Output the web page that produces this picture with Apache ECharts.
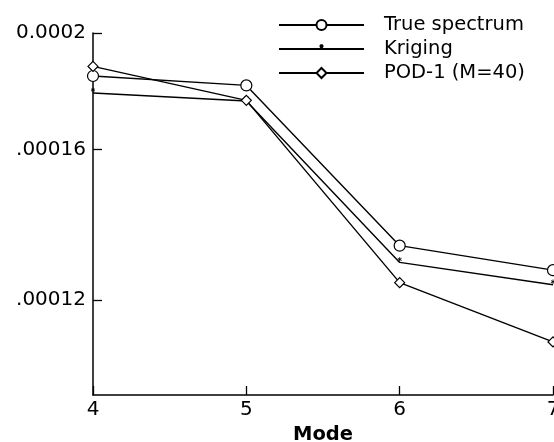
<!DOCTYPE html>
<html>
<head>
<meta charset="utf-8">
<script src="https://cdn.jsdelivr.net/npm/echarts@6/dist/echarts.min.js"></script>
<style>
html,body{margin:0;padding:0;background:#fff;}
#chart{width:554px;height:442px;}
</style>
</head>
<body>
<div id="chart"></div>
<script>
const modes = [4, 5, 6, 7];
const trueSpectrum = [1.842e-4, 1.809e-4, 1.331e-4, 1.270e-4];
const kriging = [1.783e-4, 1.756e-4, 1.289e-4, 1.235e-4];
const pod1 = [1.876e-4, 1.758e-4, 1.240e-4, 1.107e-4];
const yTickValues = [0.00012, 0.00016, 0.0002];
const yTickLabels = ['.00012', '.00016', '0.0002'];
const seriesNames = ['True spectrum', 'Kriging', 'POD-1 (M=40)'];

const FONT = 'DejaVu Sans, Liberation Sans, Arial, sans-serif';
// small asterisk drawn above the centre of a 20x20 box
const asterisk = 'path://M0,0M20,20M10,0.5L10,8.5M6.5,2.5L13.5,6.5M6.5,6.5L13.5,2.5';

function pairs(vals) { return modes.map((m, i) => [m, vals[i]]); }

const chart = echarts.init(document.getElementById('chart'), null, {renderer: 'canvas'});
const lineStyle = {color: '#000', width: 1.4};
const hollow = {color: '#fff', borderColor: '#000', borderWidth: 1.2};
chart.setOption({
  animation: false,
  backgroundColor: '#fff',
  grid: {left: 93, right: 1, top: 33, bottom: 47, containLabel: false, outerBoundsMode: 'none'},
  legend: {
    orient: 'vertical',
    left: 278,
    top: 15,
    itemWidth: 85,
    itemHeight: 12.5,
    itemGap: 4,
    padding: 0,
    textStyle: {color: '#000', fontSize: 19.5, fontFamily: FONT, padding: [0, 0, 0, 15]},
    data: seriesNames
  },
  xAxis: {
    type: 'value',
    min: 4, max: 7, interval: 1,
    name: 'Mode',
    nameLocation: 'middle',
    nameGap: 29,
    nameTextStyle: {color: '#000', fontSize: 19.5, fontWeight: 'bold', fontFamily: FONT},
    axisLine: {show: true, lineStyle: {color: '#000', width: 1.5}},
    axisTick: {show: true, inside: true, length: 9, lineStyle: {color: '#000', width: 1.3}},
    axisLabel: {color: '#000', fontSize: 20, fontFamily: FONT, margin: 5},
    splitLine: {show: false}
  },
  yAxis: {
    type: 'log',
    logBase: 10,
    min: 0.0001, max: 0.0002,
    axisLine: {show: true, lineStyle: {color: '#000', width: 1.5}},
    axisTick: {show: true, inside: true, length: 9, lineStyle: {color: '#000', width: 1.3}, customValues: yTickValues},
    axisLabel: {
      color: '#000', fontSize: 20, fontFamily: FONT, margin: 7,
      customValues: yTickValues,
      formatter: function (v) {
        let best = 0, bd = Infinity;
        yTickValues.forEach((t, i) => { const d = Math.abs(t - v); if (d < bd) { bd = d; best = i; } });
        return yTickLabels[best];
      }
    },
    splitLine: {show: false},
    minorTick: {show: false}
  },
  series: [
    {
      name: seriesNames[0], type: 'line', data: pairs(trueSpectrum),
      symbol: 'circle', symbolSize: 11,
      lineStyle: lineStyle, itemStyle: hollow,
      clip: false
    },
    {
      name: seriesNames[1], type: 'line', data: pairs(kriging),
      symbol: asterisk, symbolSize: 11,
      lineStyle: lineStyle, itemStyle: {color: 'none', borderColor: '#000', borderWidth: 0.9},
      clip: false
    },
    {
      name: seriesNames[2], type: 'line', data: pairs(pod1),
      symbol: 'diamond', symbolSize: 10,
      lineStyle: lineStyle, itemStyle: hollow,
      clip: false
    }
  ]
});
</script>
</body>
</html>
